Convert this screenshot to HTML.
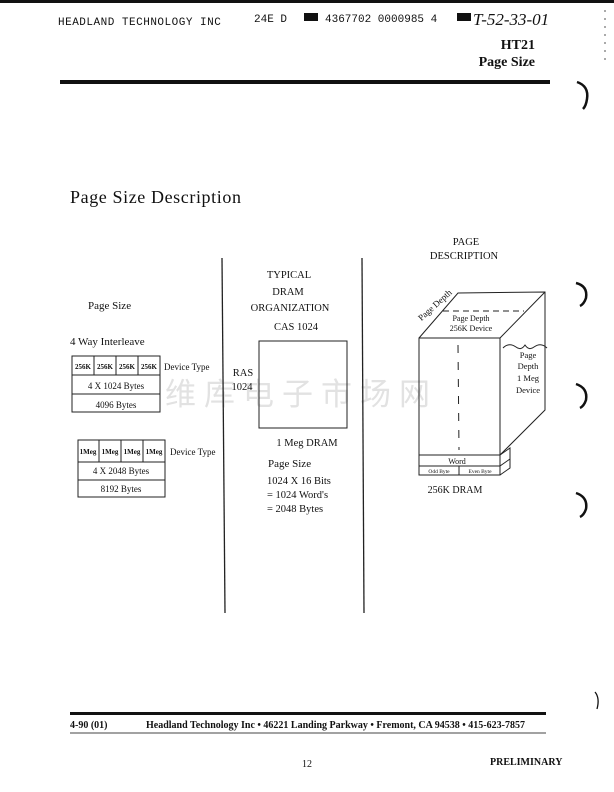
<!DOCTYPE html>
<html><head><meta charset="utf-8"><style>
html,body{margin:0;padding:0;background:#fff;}
svg{display:block}
text{font-family:"Liberation Serif",serif;fill:#111}
.m{font-family:"Liberation Mono",monospace}
.b{font-weight:bold}
</style></head><body>
<svg width="614" height="792" viewBox="0 0 614 792" xmlns="http://www.w3.org/2000/svg">
<rect x="0" y="0" width="614" height="3" fill="#111"/>
<text x="58" y="25" class="m" font-size="11" letter-spacing="0.5">HEADLAND TECHNOLOGY INC</text>
<text x="254" y="22" class="m" font-size="11">24E D</text>
<rect x="304" y="13" width="14" height="8" fill="#111"/>
<text x="325" y="22" class="m" font-size="11">4367702 0000985 4</text>
<rect x="457" y="13" width="14" height="8" fill="#111"/>
<text x="473" y="25" font-size="17" font-style="italic" font-family="Liberation Sans,sans-serif">T-52-33-01</text>
<text x="535" y="49" class="b" font-size="14" text-anchor="end">HT21</text>
<text x="535" y="66" class="b" font-size="14" text-anchor="end">Page Size</text>
<rect x="60" y="80" width="490" height="4" fill="#111"/>
<line x1="605" y1="10" x2="605" y2="60" stroke="#555" stroke-dasharray="2,6"/>
<text x="70" y="203" font-size="18" letter-spacing="0.6">Page Size Description</text>

<text x="165" y="405" font-size="31" fill="#e2e2e2" style="fill:#e2e2e2" font-family="Noto Serif CJK SC, serif" letter-spacing="8">维库电子市场网</text>

<line x1="222" y1="258" x2="225" y2="613" stroke="#222" stroke-width="1.3"/>
<line x1="362" y1="258" x2="364" y2="613" stroke="#222" stroke-width="1.3"/>

<text x="88" y="309" font-size="11">Page Size</text>
<text x="70" y="345" font-size="11">4 Way Interleave</text>
<g stroke="#222" fill="none" stroke-width="1">
<rect x="72" y="356" width="88" height="56"/>
<line x1="72" y1="375" x2="160" y2="375"/><line x1="72" y1="394" x2="160" y2="394"/>
<line x1="94" y1="356" x2="94" y2="375"/><line x1="116" y1="356" x2="116" y2="375"/><line x1="138" y1="356" x2="138" y2="375"/>
<rect x="78" y="440" width="87" height="57"/>
<line x1="78" y1="462" x2="165" y2="462"/><line x1="78" y1="480" x2="165" y2="480"/>
<line x1="99" y1="440" x2="99" y2="462"/><line x1="121" y1="440" x2="121" y2="462"/><line x1="143" y1="440" x2="143" y2="462"/>
</g>
<g font-size="7" class="b" text-anchor="middle">
<text x="83" y="369">256K</text><text x="105" y="369">256K</text><text x="127" y="369">256K</text><text x="149" y="369">256K</text>
<text x="88" y="454">1Meg</text><text x="110" y="454">1Meg</text><text x="132" y="454">1Meg</text><text x="154" y="454">1Meg</text>
</g>
<text x="164" y="370" font-size="9">Device Type</text>
<text x="170" y="455" font-size="9">Device Type</text>
<text x="116" y="389" font-size="9" text-anchor="middle">4 X 1024 Bytes</text>
<text x="116" y="408" font-size="9" text-anchor="middle">4096 Bytes</text>
<text x="121" y="474" font-size="9" text-anchor="middle">4 X 2048 Bytes</text>
<text x="121" y="492" font-size="9" text-anchor="middle">8192 Bytes</text>

<g font-size="10.5" text-anchor="middle">
<text x="289" y="278">TYPICAL</text>
<text x="288" y="295">DRAM</text>
<text x="290" y="311">ORGANIZATION</text>
<text x="296" y="330">CAS 1024</text>
<text x="243" y="376">RAS</text>
<text x="242" y="390">1024</text>
<text x="307" y="446">1 Meg DRAM</text>
</g>
<rect x="259" y="341" width="88" height="87" fill="none" stroke="#222"/>
<text x="268" y="467" font-size="11">Page Size</text>
<text x="267" y="484" font-size="10.5">1024 X 16 Bits</text>
<text x="267" y="498" font-size="10.5">= 1024 Word's</text>
<text x="267" y="512" font-size="10.5">= 2048 Bytes</text>

<text x="466" y="245" font-size="10.5" text-anchor="middle">PAGE</text>
<text x="464" y="259" font-size="10.5" text-anchor="middle">DESCRIPTION</text>
<g stroke="#222" fill="none" stroke-width="1">
<polygon points="419,338 500,338 500,455 419,455"/>
<polyline points="419,338 458,293 545,292 545,410 500,455"/>
<line x1="500" y1="338" x2="545" y2="292"/>
<line x1="443" y1="311" x2="524" y2="311" stroke-dasharray="6,4"/>
<line x1="458" y1="345" x2="459" y2="450" stroke-dasharray="8,9"/>
<rect x="419" y="455" width="81" height="11"/>
<rect x="419" y="466" width="81" height="9"/>
<line x1="459" y1="466" x2="459" y2="475"/>
<polyline points="500,455 510,448 510,468 500,475"/>
<line x1="500" y1="466" x2="510" y2="459"/>
<path d="M503,348 q6,-6 13,-1 q5,4 9,-2 q4,6 9,2 q7,-5 13,1"/>
</g>
<text x="471" y="321" font-size="8" text-anchor="middle">Page Depth</text>
<text x="471" y="331" font-size="8" text-anchor="middle">256K Device</text>
<g font-size="8.5" text-anchor="middle">
<text x="528" y="358">Page</text><text x="528" y="369">Depth</text><text x="528" y="381">1 Meg</text><text x="528" y="393">Device</text>
</g>
<text x="457" y="464" font-size="8" text-anchor="middle">Word</text>
<text x="439" y="473" font-size="5.5" text-anchor="middle">Odd Byte</text>
<text x="480" y="473" font-size="5.5" text-anchor="middle">Even Byte</text>
<text x="427" y="336" font-size="9" transform="rotate(-42 405 336)">Page Depth</text>
<text x="455" y="493" font-size="10" text-anchor="middle">256K DRAM</text>

<rect x="70" y="712" width="476" height="3" fill="#111"/>
<text x="70" y="728" font-size="10" class="b">4-90  (01)</text>
<text x="146" y="728" font-size="10" class="b">Headland Technology Inc • 46221 Landing Parkway • Fremont, CA 94538 • 415-623-7857</text>
<line x1="70" y1="733" x2="546" y2="733" stroke="#444" stroke-width="1"/>
<text x="302" y="767" font-size="10">12</text>
<text x="490" y="765" font-size="10" class="b">PRELIMINARY</text>
<g stroke="#111" stroke-width="2.5" fill="none">
<path d="M577,82 q12,4 10,17 q-1,7 -4,10"/>
<path d="M576,283 q12,3 10,15 q-2,6 -6,8"/>
<path d="M576,384 q12,4 10,16 q-2,6 -6,8"/>
<path d="M576,493 q12,4 10,16 q-2,6 -6,8"/>
<path d="M595,692 q5,6 2,17" stroke-width="1.3"/>
</g>
</svg>
</body></html>
